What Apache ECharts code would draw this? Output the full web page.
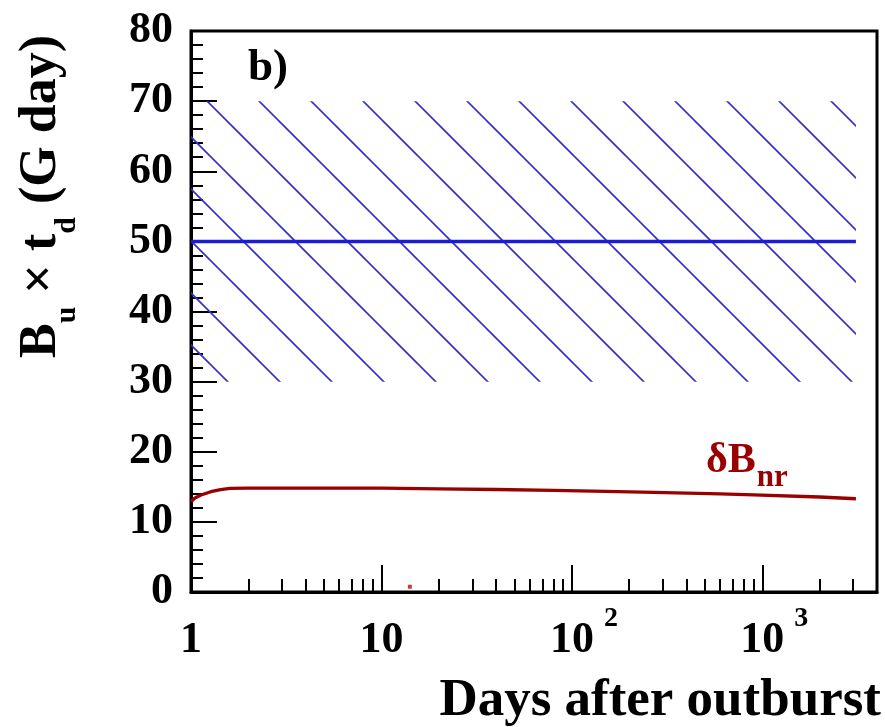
<!DOCTYPE html>
<html>
<head>
<meta charset="utf-8">
<script src="https://cdn.jsdelivr.net/npm/echarts@6/dist/echarts.min.js"></script>
<style>
  html, body { margin: 0; padding: 0; background: #fff; }
  #chart { width: 885px; height: 727px; }
</style>
</head>
<body>
<div id="chart"></div>
<script>
// ---- data ----
const days = [1, 1.05, 1.12, 1.27, 1.43, 1.6, 2, 5, 10, 20, 40, 80, 150, 270, 600, 900, 2000, 3100];
const deltaBnr = [12.9, 13.4, 13.8, 14.3, 14.6, 14.78, 14.82, 14.82, 14.8, 14.72, 14.62, 14.48, 14.35, 14.2, 14.0, 13.85, 13.55, 13.3];
const limitDays = [1, 3100];
const limitValue = [50, 50];
const hatchDays = [1, 3100];
const hatchRange = [30, 70];
const strayPointDay = [14.1];
const strayPointValue = [0.75];
const xMin = 1, xMax = 4000;
const yMin = 0, yMax = 80, yStep = 10;
const xMajorDecades = [0, 1, 2, 3];
const xTickLabels = ['1', '10', '10^2', '10^3'];
const panelLabel = 'b)';
const curveLabelMain = 'δB';
const curveLabelSub = 'nr';
const xTitle = 'Days after outburst';

// ---- helpers ----
const FONT = '"Liberation Serif", "DejaVu Serif", serif';
const logMax = Math.log10(xMax);
const minorLog = [];
for (let n = 0; n <= 3; n++) {
  for (let k = 2; k <= 9; k++) {
    const v = k * Math.pow(10, n);
    if (v < xMax) minorLog.push(Math.log10(v));
  }
}

function hatchPattern() {
  const s = 52;
  const c = document.createElement('canvas');
  c.width = s; c.height = s;
  const ctx = c.getContext('2d');
  ctx.strokeStyle = '#3030d6';
  ctx.lineWidth = 1.7;
  ctx.lineCap = 'butt';
  const off = 2;
  for (const k of [-s, 0, s]) {
    ctx.beginPath();
    ctx.moveTo(k + off - 3, -3);
    ctx.lineTo(k + off + s + 3, s + 3);
    ctx.stroke();
  }
  return c;
}

function xLabelFormatter(v) {
  const i = xMajorDecades.findIndex(d => Math.abs(d - v) < 1e-6);
  if (i < 0) return '';
  const t = xTickLabels[i];
  if (t.indexOf('^') >= 0) {
    const parts = t.split('^');
    return '{sp|}{b|' + parts[0] + '}{s|' + parts[1] + '}';
  }
  return '{z|}{b|' + t + '}';
}

const chart = echarts.init(document.getElementById('chart'), null, { renderer: 'canvas' });

const option = {
  animation: false,
  backgroundColor: '#ffffff',
  grid: {
    left: 191, top: 31, width: 686, height: 561,
    show: true, borderColor: '#000', borderWidth: 3, backgroundColor: 'transparent'
  },
  xAxis: [
    {
      type: 'log', logBase: 10, min: xMin, max: xMax, position: 'bottom',
      axisLine: { show: true, onZero: false, lineStyle: { color: '#000', width: 3 } },
      axisTick: { show: false }, axisLabel: { show: false }, splitLine: { show: false }
    },
    {
      type: 'value', min: 0, max: logMax, position: 'bottom',
      axisLine: { show: false, onZero: false },
      axisTick: { show: true, inside: true, length: 27, customValues: xMajorDecades,
                  lineStyle: { color: '#000', width: 2 } },
      axisLabel: {
        show: true, customValues: xMajorDecades, margin: 0,
        formatter: xLabelFormatter,
        rich: {
          b: { fontFamily: FONT, fontWeight: 'bold', fontSize: 44, color: '#000',
               lineHeight: 50, padding: [24, 0, 0, 0] },
          s: { fontFamily: FONT, fontWeight: 'bold', fontSize: 28, color: '#000',
               lineHeight: 30, padding: [12, 0, 32, 10] },
          sp: { width: 24, lineHeight: 74 },
          z: { width: 0, lineHeight: 74 }
        }
      },
      splitLine: { show: false }
    },
    {
      type: 'value', min: 0, max: logMax, position: 'bottom',
      axisLine: { show: false, onZero: false },
      axisTick: { show: true, inside: true, length: 13, customValues: minorLog,
                  lineStyle: { color: '#000', width: 2 } },
      axisLabel: { show: false },
      splitLine: { show: false }
    }
  ],
  yAxis: {
    type: 'value', min: yMin, max: yMax, interval: yStep,
    axisLine: { show: true, onZero: false, lineStyle: { color: '#000', width: 3 } },
    axisTick: { show: true, inside: true, length: 26, lineStyle: { color: '#000', width: 2 } },
    minorTick: { show: true, splitNumber: 5, length: 12, lineStyle: { color: '#000', width: 2 } },
    axisLabel: { fontFamily: FONT, fontWeight: 'bold', fontSize: 44, color: '#000', margin: 18 },
    splitLine: { show: false }
  },
  series: [
    {
      name: 'limit', type: 'line', xAxisIndex: 0,
      data: limitDays.map((d, i) => [d, limitValue[i]]),
      showSymbol: false, silent: true,
      lineStyle: { color: '#1c1cd4', width: 3.5 },
      markArea: {
        silent: true,
        itemStyle: { color: { image: hatchPattern(), repeat: 'repeat' }, opacity: 1, borderWidth: 0 },
        data: [[ { coord: [hatchDays[0], hatchRange[0]] }, { coord: [hatchDays[1], hatchRange[1]] } ]]
      },
      z: 3
    },
    {
      name: 'deltaBnr', type: 'line', xAxisIndex: 0,
      data: days.map((d, i) => [d, deltaBnr[i]]),
      showSymbol: false, silent: true, smooth: false,
      lineStyle: { color: '#990000', width: 3.3 },
      z: 4
    },
    {
      name: 'stray', type: 'scatter', xAxisIndex: 0,
      data: strayPointDay.map((d, i) => [d, strayPointValue[i]]),
      symbol: 'rect', symbolSize: 4, silent: true,
      itemStyle: { color: '#aa1010' }
    }
  ],
  graphic: [
    {
      type: 'text', x: 20, y: 35, rotation: Math.PI / 2, silent: true,
      style: {
        text: '{m|B}{s|u}{m| × t}{s|d}{m| (G day)}',
        align: 'right', verticalAlign: 'top',
        rich: {
          m: { fontFamily: FONT, fontWeight: 'bold', fontSize: 52, fill: '#000',
               lineHeight: 56, padding: [0, 0, 13, 0] },
          s: { fontFamily: FONT, fontWeight: 'bold', fontSize: 30, fill: '#000',
               lineHeight: 30, padding: [39, 0, 0, 0] }
        }
      }
    },
    {
      type: 'text', right: 4, top: 675, silent: true,
      style: { text: xTitle, fontFamily: FONT, fontWeight: 'bold', fontSize: 53, fill: '#000' }
    },
    {
      type: 'text', x: 248, y: 68, silent: true,
      style: { text: panelLabel, fontFamily: FONT, fontWeight: 'bold', fontSize: 45, fill: '#000',
               align: 'left', verticalAlign: 'middle' }
    },
    {
      type: 'text', x: 706, y: 443, silent: true,
      style: {
        text: '{m|' + curveLabelMain + '}{s|' + curveLabelSub + '}',
        align: 'left', verticalAlign: 'top',
        rich: {
          m: { fontFamily: FONT, fontWeight: 'bold', fontSize: 42, fill: '#990000',
               lineHeight: 46, padding: [0, 0, 10, 0] },
          s: { fontFamily: FONT, fontWeight: 'bold', fontSize: 31, fill: '#990000',
               lineHeight: 31, padding: [24, 0, 0, 1] }
        }
      }
    }
  ]
};
chart.setOption(option);
</script>
</body>
</html>
